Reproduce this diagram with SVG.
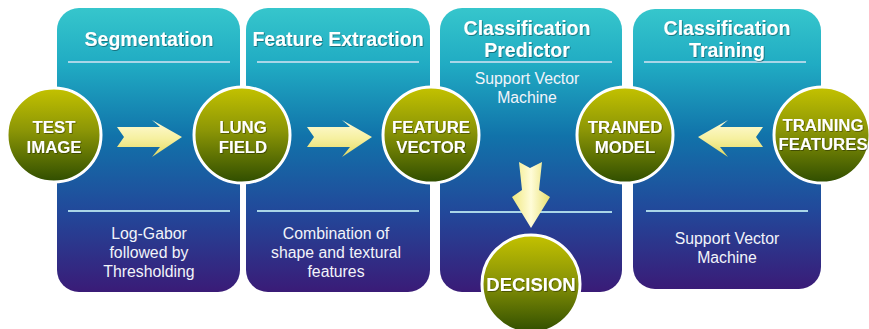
<svg xmlns="http://www.w3.org/2000/svg" width="869" height="329" viewBox="0 0 869 329">
<defs>
<linearGradient id="panelGrad" x1="0" y1="0" x2="0" y2="1">
<stop offset="0" stop-color="#36c6cc"/>
<stop offset="0.2" stop-color="#20abc3"/>
<stop offset="0.45" stop-color="#1173aa"/>
<stop offset="0.72" stop-color="#22489a"/>
<stop offset="1" stop-color="#3a1b77"/>
</linearGradient>
<linearGradient id="ballGrad" x1="0" y1="0" x2="0" y2="1">
<stop offset="0" stop-color="#c4c200"/>
<stop offset="0.45" stop-color="#8c9606"/>
<stop offset="1" stop-color="#2f4d00"/>
</linearGradient>
<linearGradient id="arrowGrad" x1="0" y1="0" x2="0" y2="1">
<stop offset="0" stop-color="#fffbd8"/>
<stop offset="0.5" stop-color="#f6f0a0"/>
<stop offset="1" stop-color="#e2d960"/>
</linearGradient>
<linearGradient id="arrowGradV" x1="0" y1="0" x2="1" y2="0">
<stop offset="0" stop-color="#f0e880"/>
<stop offset="0.5" stop-color="#fffcd8"/>
<stop offset="1" stop-color="#e8e070"/>
</linearGradient>
<filter id="shadow" x="-10%" y="-10%" width="130%" height="130%">
<feDropShadow dx="0.8" dy="0.8" stdDeviation="0.6" flood-color="#000" flood-opacity="0.45"/>
</filter>
</defs>
<style>
.panel{fill:url(#panelGrad);}
.rule{stroke:#a9d6e8;stroke-width:2;}
.title{font-family:"Liberation Sans",Arial,sans-serif;font-weight:bold;font-size:19.5px;fill:#ffffff;text-anchor:middle;filter:url(#shadow);}
.desc{font-family:"Liberation Sans",Arial,sans-serif;font-size:15.8px;fill:#f2f4fa;text-anchor:middle;}
.ball{fill:url(#ballGrad);stroke:#ffffff;stroke-width:3;}
.btext{font-family:"Liberation Sans",Arial,sans-serif;font-weight:bold;font-size:16.8px;fill:#ffffff;text-anchor:middle;filter:url(#shadow);}
.arrow{fill:url(#arrowGrad);}
.arrowV{fill:url(#arrowGradV);}
</style>

<g id="panel-segmentation">
<rect class="panel" x="57" y="8" width="183" height="284" rx="22"/>
<line class="rule" x1="68" y1="62" x2="230" y2="62"/>
<line class="rule" x1="68" y1="211" x2="230" y2="211"/>
<text class="title" x="149" y="46">Segmentation</text>
<text class="desc" x="149" y="239">Log-Gabor</text>
<text class="desc" x="149" y="258">followed by</text>
<text class="desc" x="149" y="277">Thresholding</text>
</g>

<g id="panel-feature-extraction">
<rect class="panel" x="246" y="8" width="184" height="284" rx="22"/>
<line class="rule" x1="257" y1="62" x2="419" y2="62"/>
<line class="rule" x1="257" y1="211" x2="419" y2="211"/>
<text class="title" x="338" y="46">Feature Extraction</text>
<text class="desc" x="336" y="239">Combination of</text>
<text class="desc" x="336" y="258">shape and textural</text>
<text class="desc" x="336" y="277">features</text>
</g>

<g id="panel-classification-predictor">
<rect class="panel" x="440" y="8" width="182" height="284" rx="22"/>
<line class="rule" x1="450" y1="62" x2="612" y2="62"/>
<line class="rule" x1="450" y1="212" x2="612" y2="212"/>
<text class="title" x="527" y="35">Classification</text>
<text class="title" x="527" y="57">Predictor</text>
<text class="desc" x="527" y="84">Support Vector</text>
<text class="desc" x="527" y="103">Machine</text>
</g>

<g id="panel-classification-training">
<rect class="panel" x="633" y="9" width="188" height="280" rx="22"/>
<line class="rule" x1="644" y1="62" x2="806" y2="62"/>
<line class="rule" x1="646" y1="211" x2="808" y2="211"/>
<text class="title" x="727" y="35">Classification</text>
<text class="title" x="727" y="57">Training</text>
<text class="desc" x="727" y="244">Support Vector</text>
<text class="desc" x="727" y="263">Machine</text>
</g>

<g id="connectors">
<path class="arrow" d="M117,127 L160,127 L152,120 L182,137 L152,157 L160,147 L117,147 L124,137 Z"/>
<path class="arrow" d="M307,127 L350,127 L342,120 L372,137 L342,157 L350,147 L307,147 L314,137 Z"/>
<path class="arrow" d="M763,127 L720,127 L728,120 L698,137 L728,157 L720,147 L763,147 L756,137 Z"/>
<path class="arrowV" d="M519,162 L530,168 L542,162 L539,190 L550,197 L531,228 L512,197 L522,190 Z"/>
</g>

<g id="node-test-image">
<circle class="ball" cx="54" cy="135" r="47"/>
<text class="btext" x="54" y="133">TEST</text>
<text class="btext" x="54" y="153">IMAGE</text>
</g>

<g id="node-lung-field">
<circle class="ball" cx="242" cy="135" r="48"/>
<text class="btext" x="243" y="133">LUNG</text>
<text class="btext" x="243" y="153">FIELD</text>
</g>

<g id="node-feature-vector">
<circle class="ball" cx="431" cy="135" r="48"/>
<text class="btext" x="431" y="133">FEATURE</text>
<text class="btext" x="431" y="153">VECTOR</text>
</g>

<g id="node-trained-model">
<circle class="ball" cx="625" cy="135" r="48"/>
<text class="btext" x="625" y="133">TRAINED</text>
<text class="btext" x="625" y="153">MODEL</text>
</g>

<g id="node-training-features">
<circle class="ball" cx="822" cy="135" r="48"/>
<text class="btext" x="823" y="131">TRAINING</text>
<text class="btext" x="823" y="150">FEATURES</text>
</g>

<g id="node-decision">
<circle class="ball" cx="531" cy="284" r="49"/>
<text class="btext" x="531" y="291" style="font-size:18.5px">DECISION</text>
</g>
</svg>
